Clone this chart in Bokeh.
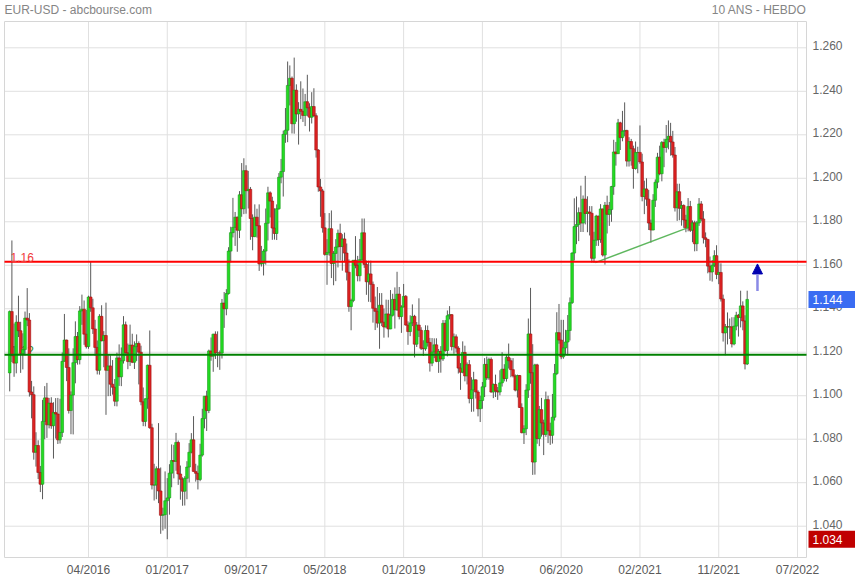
from bokeh.plotting import figure
from bokeh.models import Range1d, Arrow, NormalHead, ColumnDataSource
from bokeh.core.properties import value
from bokeh.embed import file_html
from bokeh.resources import INLINE

# ---------------- data (weekly EUR-USD, prices in 1/10000) ----------------
first_open = 11105
close_p = [
11387, 11184, 11150, 11338, 11299, 11194, 11212, 11357, 11348, 11017,
11005, 10740, 10771, 10647, 10593, 10882, 10990, 10866, 10966, 10862,
10923, 10916, 10797, 10831, 11158, 11256, 11130, 10932, 11003, 11152,
11272, 11166, 11390, 11398, 11283, 11226, 11454, 11404, 11307, 11222,
11117, 11365, 11253, 11277, 11117, 11137, 11053, 11039, 10975, 11174,
11087, 11161, 11326, 11198, 11157, 11233, 11154, 11226, 11240, 11200,
10972, 10882, 10986, 11140, 10853, 10589, 10589, 10664, 10562, 10450,
10453, 10517, 10530, 10644, 10702, 10698, 10785, 10640, 10616, 10561,
10620, 10672, 10740, 10797, 10652, 10643, 10615, 10727, 10895, 10998,
10932, 11206, 11182, 11283, 11197, 11197, 11196, 11426, 11400, 11470,
11665, 11750, 11774, 11821, 11761, 11924, 11860, 12035, 11943, 11949,
11815, 11732, 11821, 11782, 11606, 11609, 11665, 11793, 11933, 11895,
11771, 11746, 11860, 12005, 12031, 12202, 12221, 12427, 12460, 12251,
12405, 12296, 12317, 12308, 12289, 12352, 12324, 12281, 12330, 12288,
12130, 11960, 11942, 11772, 11650, 11659, 11768, 11608, 11654, 11684,
11747, 11686, 11721, 11656, 11568, 11410, 11438, 11623, 11600, 11552,
11626, 11749, 11604, 11524, 11560, 11512, 11402, 11388, 11334, 11416,
11338, 11316, 11376, 11307, 11370, 11443, 11395, 11467, 11364, 11408,
11457, 11325, 11295, 11335, 11365, 11237, 11325, 11301, 11218, 11216,
11300, 11245, 11150, 11201, 11234, 11158, 11204, 11169, 11333, 11208,
11368, 11373, 11226, 11271, 11219, 11127, 11108, 11199, 11091, 11143,
10987, 11027, 11073, 11017, 10940, 10978, 11041, 11144, 11082, 11167,
11017, 11052, 11022, 11017, 11059, 11122, 11079, 11177, 11161, 11120,
11091, 11026, 11093, 10946, 10830, 10848, 11026, 11284, 11106, 10695,
11142, 10803, 10936, 10875, 10822, 10982, 10839, 10818, 10901, 11102,
11290, 11256, 11179, 11220, 11247, 11300, 11428, 11656, 11778, 11787,
11842, 11794, 11904, 11838, 11845, 11839, 11632, 11715, 11826, 11718,
11859, 11647, 11876, 11834, 11856, 11962, 12121, 12113, 12255, 12187,
12216, 12220, 12079, 12169, 12136, 12045, 12118, 12119, 12075, 11916,
11951, 11904, 11794, 11762, 11899, 11982, 12097, 12021, 12165, 12142,
12179, 12193, 12167, 12107, 11864, 11938, 11862, 11875, 11808, 11771,
11870, 11761, 11795, 11699, 11795, 11882, 11813, 11726, 11719, 11596,
11569, 11600, 11644, 11558, 11567, 11445, 11289, 11317, 11316, 11317,
11238, 11320, 11370, 11360, 11413, 11344, 11146, 11443]
high_p = [
11392, 11714, 11332, 11370, 11460, 11340, 11287, 11387, 11495, 11380,
11068, 11043, 10832, 10795, 10677, 10981, 11044, 11059, 10990, 10993,
10970, 10989, 10990, 10986, 11199, 11376, 11258, 11218, 11020, 11218,
11342, 11293, 11412, 11465, 11438, 11395, 11460, 11616, 11446, 11349,
11254, 11375, 11416, 11297, 11428, 11187, 11186, 11164, 11077, 11198,
11236, 11222, 11366, 11341, 11240, 11327, 11285, 11250, 11282, 11250,
11230, 11038, 10988, 11143, 11300, 10871, 10687, 10675, 10874, 10670,
10485, 10652, 10621, 10685, 10776, 10774, 10829, 10794, 10679, 10625,
10630, 10699, 10782, 10828, 10906, 10687, 10679, 10779, 10940, 10998,
11023, 11212, 11268, 11285, 11296, 11296, 11208, 11445, 11477, 11490,
11683, 11777, 11910, 11845, 11824, 11941, 12070, 12092, 12060, 12034,
11960, 11834, 11880, 11860, 11880, 11689, 11674, 11861, 11961, 11940,
11915, 11862, 11880, 12024, 12089, 12219, 12323, 12537, 12519, 12468,
12555, 12432, 12350, 12446, 12413, 12388, 12476, 12345, 12396, 12414,
12299, 12134, 11997, 11951, 11840, 11720, 11840, 11852, 11665, 11720,
11764, 11791, 11743, 11750, 11700, 11627, 11446, 11623, 11734, 11643,
11721, 11815, 11815, 11622, 11621, 11621, 11525, 11456, 11500, 11472,
11472, 11401, 11442, 11441, 11486, 11469, 11498, 11570, 11500, 11416,
11514, 11463, 11342, 11370, 11420, 11372, 11339, 11448, 11315, 11255,
11324, 11323, 11266, 11265, 11264, 11264, 11215, 11228, 11348, 11348,
11392, 11412, 11375, 11286, 11282, 11228, 11150, 11250, 11230, 11153,
11164, 11085, 11110, 11075, 11025, 11000, 11063, 11173, 11180, 11175,
11176, 11056, 11097, 11040, 11117, 11200, 11145, 11187, 11240, 11173,
11173, 11098, 11097, 11095, 10965, 10864, 11053, 11355, 11496, 11237,
11147, 11147, 10953, 10990, 10890, 11019, 11000, 10876, 11008, 11146,
11384, 11422, 11349, 11349, 11303, 11371, 11452, 11660, 11908, 11916,
11866, 11966, 11921, 12011, 11917, 11872, 11872, 11754, 11832, 11828,
11881, 11861, 11891, 11920, 11891, 11965, 12177, 12167, 12273, 12260,
12310, 12349, 12223, 12189, 12181, 12150, 12169, 12145, 12243, 12113,
11989, 12000, 11946, 11810, 11927, 11995, 12117, 12150, 12171, 12182,
12245, 12266, 12255, 12218, 12144, 11975, 11975, 11895, 11880, 11832,
11909, 11896, 11806, 11805, 11804, 11909, 11895, 11849, 11751, 11720,
11640, 11624, 11669, 11692, 11617, 11609, 11465, 11330, 11383, 11355,
11361, 11361, 11386, 11376, 11483, 11434, 11370, 11483]
low_p = [
11020, 11155, 11087, 11103, 11270, 11105, 11121, 11185, 11320, 10996,
10896, 10706, 10674, 10617, 10557, 10524, 10800, 10806, 10850, 10848,
10711, 10803, 10778, 10780, 10810, 11157, 11067, 10918, 10823, 10822,
11057, 11143, 11144, 11326, 11234, 11217, 11216, 11386, 11284, 11184,
11098, 11097, 11250, 11131, 10912, 10998, 10999, 11005, 10952, 10951,
11045, 11044, 11148, 11184, 11122, 11137, 11150, 11123, 11160, 11052,
10956, 10860, 10859, 10940, 10848, 10569, 10518, 10524, 10506, 10365,
10380, 10388, 10340, 10453, 10579, 10620, 10655, 10590, 10522, 10494,
10495, 10524, 10601, 10735, 10651, 10605, 10569, 10607, 10720, 10850,
10838, 10920, 11161, 11110, 11169, 11131, 11119, 11171, 11312, 11370,
11465, 11613, 11728, 11689, 11662, 11725, 11823, 11835, 11837, 11861,
11717, 11669, 11729, 11727, 11574, 11594, 11553, 11603, 11714, 11820,
11717, 11718, 11716, 11855, 11977, 11916, 12163, 12166, 12335, 12206,
12205, 12260, 12155, 12272, 12259, 12240, 12285, 12215, 12252, 12281,
12095, 11938, 11823, 11750, 11644, 11510, 11644, 11541, 11508, 11527,
11590, 11622, 11575, 11614, 11530, 11386, 11301, 11430, 11586, 11526,
11526, 11611, 11588, 11464, 11432, 11430, 11336, 11302, 11313, 11216,
11320, 11267, 11310, 11268, 11306, 11364, 11309, 11390, 11351, 11289,
11406, 11322, 11234, 11274, 11320, 11176, 11224, 11270, 11210, 11183,
11207, 11226, 11111, 11136, 11173, 11154, 11105, 11106, 11160, 11202,
11181, 11351, 11208, 11193, 11199, 11102, 11027, 11103, 11066, 11052,
10965, 10926, 10927, 10987, 10905, 10879, 10940, 10994, 11072, 11073,
11014, 10989, 10994, 10981, 11002, 11042, 11066, 11065, 11125, 11085,
11084, 11020, 10992, 10944, 10827, 10778, 10819, 10990, 11055, 10636,
10637, 10779, 10768, 10812, 10727, 10811, 10782, 10774, 10780, 10886,
11095, 11239, 11168, 11170, 11192, 11186, 11254, 11422, 11622, 11697,
11711, 11753, 11753, 11788, 11752, 11737, 11612, 11611, 11689, 11689,
11703, 11640, 11603, 11746, 11781, 11800, 11924, 12058, 12112, 12130,
12170, 12193, 12054, 12054, 12058, 11952, 12040, 12023, 12066, 11894,
11835, 11873, 11762, 11704, 11761, 11868, 11954, 12014, 11986, 12051,
12118, 12133, 12104, 12095, 11847, 11804, 11807, 11782, 11772, 11752,
11756, 11753, 11706, 11664, 11665, 11781, 11802, 11700, 11683, 11563,
11529, 11525, 11592, 11536, 11513, 11433, 11249, 11186, 11236, 11261,
11222, 11232, 11301, 11272, 11314, 11301, 11121, 11141]

first_week = -36          # week index of the first candle (04/2016 tick = week 0)
tick_weeks = [0, 36, 72, 108, 144, 180, 216, 252, 288, 324]
tick_labels = ["04/2016", "01/2017", "09/2017", "05/2018", "01/2019",
               "10/2019", "06/2020", "02/2021", "11/2021", "07/2022"]
price_ticks = [1.04, 1.06, 1.08, 1.10, 1.12, 1.14, 1.16, 1.18, 1.20, 1.22, 1.24, 1.26]
title_left = "EUR-USD - abcbourse.com"
title_right = "10 ANS - HEBDO"

resistance = 1.1616
support = 1.1188
trend_weeks = [231.6, 273.7]
trend_values = [1.1612, 1.1772]
arrow_week = 305.7
arrow_from = 1.1482
arrow_to = 1.1606

# ---------------- layout ----------------
FONT = "Liberation Sans"
GREEN, GREEN_EDGE = "#22dd22", "#159a15"
RED, RED_EDGE = "#dd2222", "#a01010"
GRID = "#e0e0e0"
W, H = 855, 580
# plotting area (data extent) and its pixel margins inside the canvas
AX0, AX1 = -38.38, 328.1
AY0, AY1 = 1.0256, 1.2721
ML, MR, MT, MB = 4, 49, 21, 23
sx = (AX1 - AX0) / (W - ML - MR)      # data units per pixel
sy = (AY1 - AY0) / (H - MT - MB)

p = figure(width=W, height=H, output_backend="svg", toolbar_location=None,
           x_range=Range1d(AX0 - ML * sx, AX1 + MR * sx),
           y_range=Range1d(AY0 - MB * sy, AY1 + MT * sy),
           min_border=0, min_border_left=0, min_border_right=0,
           min_border_top=0, min_border_bottom=0)
p.axis.visible = False
p.grid.visible = False
p.outline_line_color = None
p.background_fill_color = "white"
p.border_fill_color = "white"

# grid and frame
p.segment(x0=tick_weeks, y0=AY0, x1=tick_weeks, y1=AY1, line_color=GRID, line_width=1)
p.segment(x0=AX0, y0=price_ticks, x1=AX1, y1=price_ticks, line_color=GRID, line_width=1)
p.quad(left=AX0, right=AX1, bottom=AY0, top=AY1, fill_color=None, line_color="#d6d6d6", line_width=1)

# support label (behind candles)
p.text(x=[AX0], y=[support], text=[f"{support:.2f}"], x_offset=6, y_offset=-4,
       text_font=value(FONT), text_font_size="12px", text_color="#2a8a2a",
       text_baseline="alphabetic", text_align="left")

# candles
opens = [first_open] + close_p[:-1]
o = [v / 10000 for v in opens]
c = [v / 10000 for v in close_p]
h = [v / 10000 for v in high_p]
l = [v / 10000 for v in low_p]
xs = [first_week + i for i in range(len(c))]
up = [ci >= oi for ci, oi in zip(c, o)]
src = ColumnDataSource(dict(
    x=xs, h=h, l=l,
    top=[max(a, b) for a, b in zip(o, c)],
    bottom=[min(a, b) for a, b in zip(o, c)],
    fill=[GREEN if u else RED for u in up],
    edge=[GREEN_EDGE if u else RED_EDGE for u in up],
))
p.segment(x0="x", y0="h", x1="x", y1="l", source=src, line_color="#5a5a5a", line_width=1)
p.vbar(x="x", width=1.2, top="top", bottom="bottom", source=src,
       fill_color="fill", line_color="edge", line_width=0.6)

# trend line, levels, arrow
p.line(trend_weeks, trend_values, line_color="#4caf4c", line_width=1.5, line_alpha=0.9)
p.segment(x0=AX0, y0=resistance, x1=AX1, y1=resistance, line_color="#ff0000", line_width=2)
p.segment(x0=AX0, y0=support, x1=AX1, y1=support, line_color="#008000", line_width=2)
p.text(x=[AX0], y=[resistance], text=[f"{resistance:.2f}"], x_offset=6, y_offset=-4,
       text_font=value(FONT), text_font_size="12px", text_color="#f03a3a",
       text_baseline="alphabetic", text_align="left")
p.add_layout(Arrow(end=NormalHead(size=10, fill_color="#0000b0", line_color="#0000b0"),
                   x_start=arrow_week, y_start=arrow_from, x_end=arrow_week, y_end=arrow_to,
                   line_color="#8a8ae6", line_width=2.5))

# price-axis labels (right) and date labels (bottom)
p.text(x=AX1, y=price_ticks, text=[f"{t:.3f}" for t in price_ticks], x_offset=6, y_offset=-2,
       text_font=value(FONT), text_font_size="12px", text_color="#666666",
       text_baseline="middle", text_align="left")
p.text(x=tick_weeks, y=AY0, text=tick_labels, y_offset=12.5,
       text_font=value(FONT), text_font_size="12px", text_color="#5a5a5a",
       text_baseline="middle", text_align="center")

# header texts
p.text(x=[AX0], y=[AY1], text=[title_left], y_offset=-12,
       text_font=value(FONT), text_font_size="12px", text_color="#858585",
       text_baseline="middle", text_align="left")
p.text(x=[AX1], y=[AY1], text=[title_right], y_offset=-12,
       text_font=value(FONT), text_font_size="12px", text_color="#858585",
       text_baseline="middle", text_align="right")

# value boxes on the price axis: last close and lowest low
last_close = c[-1]
min_low = min(l)
box_vals = [last_close, min_low]
box_cols = ["#3a6cf2", "#c00000"]
p.quad(left=AX1 + 2 * sx, right=AX1 + MR * sx,
       bottom=[v - 8.5 * sy for v in box_vals], top=[v + 8.5 * sy for v in box_vals],
       fill_color=box_cols, line_color=None)
p.text(x=AX1, y=box_vals, text=[f"{v:.3f}" for v in box_vals], x_offset=6,
       text_font=value(FONT), text_font_size="12px", text_color="white",
       text_baseline="middle", text_align="left")

open("out.html", "w").write(file_html(p, INLINE))
